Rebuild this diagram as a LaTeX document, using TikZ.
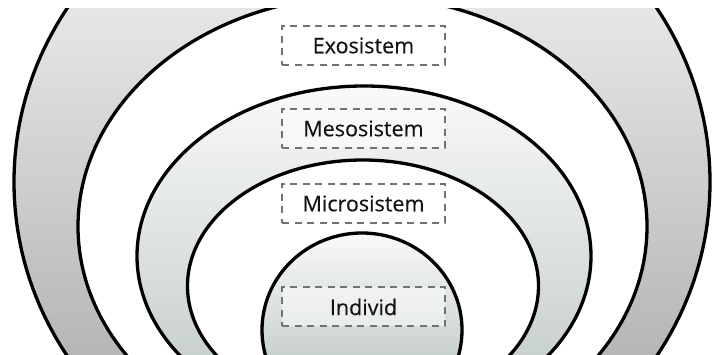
\documentclass[tikz,border=0pt]{standalone}
\usepackage{fontspec}
\setmainfont{Open Sans}
\newfontfamily\lblfont{Open Sans}[FakeBold=0.35]
\definecolor{bandA}{HTML}{E6E6E6}
\definecolor{bandAb}{HTML}{B6B6B6}
\definecolor{lightT}{HTML}{F9F9F9}
\definecolor{lightB}{HTML}{CAD1D1}
\definecolor{dashgray}{HTML}{6E7373}
\definecolor{textdark}{HTML}{141414}
\begin{document}
\begin{tikzpicture}[x=1pt,y=-1pt,
  ring/.style={draw=black, line width=3.3pt},
  lbl/.style={draw=dashgray, dash pattern=on 7pt off 5.5pt, line width=2pt,
    minimum width=163pt, minimum height=39pt, inner sep=0pt,
    fill=white, fill opacity=0.5, text opacity=1, text=textdark,
    font=\lblfont\fontsize{21.5}{21.5}\selectfont}]
\useasboundingbox (0,0) rectangle (715,355);
\begin{scope}
  \clip (0,9) rectangle (715,355);
  % ring 1 (outer, gray band)
  \begin{scope}
    \clip (362,182) ellipse [x radius=348pt, y radius=327pt];
    \shade[top color=bandA, bottom color=bandAb] (0,9) rectangle (715,355);
  \end{scope}
  % ring 2 (white)
  \fill[white] (362.5,226.5) ellipse [x radius=284.5pt, y radius=230.5pt];
  % ring 3 (light band)
  \begin{scope}
    \clip (364,256) ellipse [x radius=227pt, y radius=170pt];
    \shade[top color=lightT, bottom color=lightB] (0,86) rectangle (715,355);
  \end{scope}
  % ring 4 (white)
  \fill[white] (363,286) ellipse [x radius=175.5pt, y radius=126pt];
  % ring 5 (individ)
  \begin{scope}
    \clip (362,330) ellipse [x radius=100pt, y radius=97pt];
    \shade[top color=lightT, bottom color=lightB] (0,233) rectangle (715,355);
  \end{scope}
  \draw[ring] (362,182) ellipse [x radius=348pt, y radius=327pt];
  \draw[ring] (362.5,226.5) ellipse [x radius=284.5pt, y radius=230.5pt];
  \draw[ring] (364,256) ellipse [x radius=227pt, y radius=170pt];
  \draw[ring] (363,286) ellipse [x radius=175.5pt, y radius=126pt];
  \draw[ring] (362,330) ellipse [x radius=100pt, y radius=97pt];
\end{scope}
\node[lbl] (exo) at (363.5,45.5) {Exosistem};
\node[lbl] (meso) at (363.5,128.5) {Mesosistem};
\node[lbl] (micro) at (363.5,203.5) {Microsistem};
\node[lbl] (ind) at (363.5,307) {Individ};
\end{tikzpicture}
\end{document}
